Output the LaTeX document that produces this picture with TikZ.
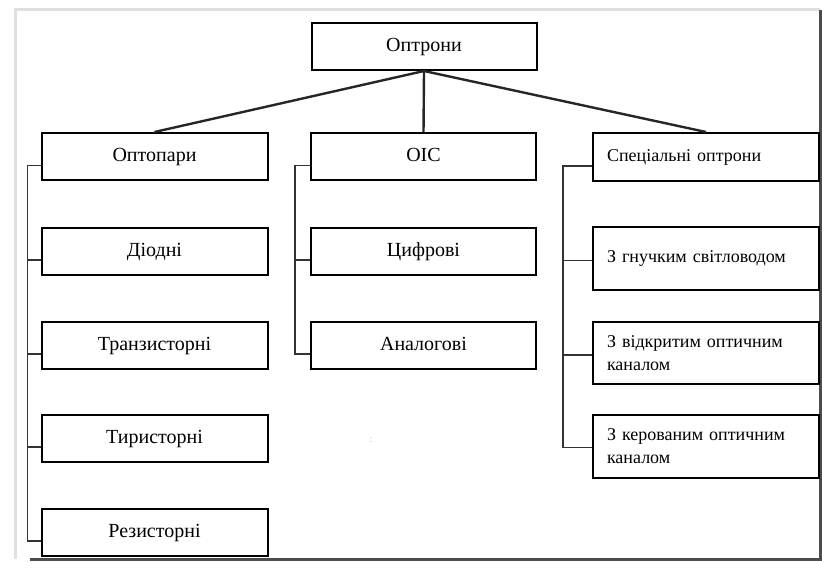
\documentclass[tikz,border=0pt]{standalone}
\usepackage{fontspec}
\setmainfont{Liberation Serif}
\tikzset{
  ramka/.style={draw,line width=1pt,minimum width=113pt,minimum height=23.5pt,inner sep=0pt},
  blok/.style={ramka,font=\fontsize{10}{12}\selectfont,text height=7pt,text depth=2pt},
  blokl/.style={ramka,font=\fontsize{9}{11.5}\selectfont,align=left,text width=99pt,inner xsep=7pt},
  gilka/.style={line width=0.8pt,black!80},
  zvjazok/.style={line width=1.2pt,black!85}
}
\begin{document}
\begin{tikzpicture}[x=0.5pt,y=-0.5pt]
		\useasboundingbox (0,0) rectangle (822,572);
		% ramka
		\draw[black!12,line width=1.5pt] (15,559) -- (15,10) -- (820,10);
		\draw[black!70,line width=1.5pt] (30,559) -- (820,559) -- (820,10);
		\node[blok,minimum width=112.5pt] (opt) at (424,46.5) {Оптрони};
		% liva grupa
		\node[blok] (opa) at (154.5,156.5) {Оптопари};
		\node[blok] (dio) at (154.5,251) {Діодні};
		\node[blok] (tra) at (154.5,345) {Транзисторні};
		\node[blok] (tyr) at (154.5,438) {Тиристорні};
		\node[blok] (rez) at (154.5,532) {Резисторні};
		% serednja grupa
		\node[blok,minimum width=112.5pt] (ois) at (423.5,156.5) {ОІС};
		\node[blok,minimum width=112.5pt] (cyf) at (423.5,251) {Цифрові};
		\node[blok,minimum width=112.5pt] (ana) at (423.5,345) {Аналогові};
		% prava grupa
		\node[blokl,minimum height=24pt] (spe) at (706,157) {Спеціальні оптрони};
		\node[blokl,minimum height=31.5pt] (gnu) at (706,258.5) {З гнучким світловодом};
		\node[blokl,minimum height=31pt] (vid) at (706,353) {З відкритим оптичним каналом};
		\node[blokl,minimum height=31.5pt] (ker) at (706,446.5) {З керованим оптичним каналом};
		\node[text=black!30,font=\tiny] (kr) at (371,440) {:};
		% zvjazky
		\draw[zvjazok] (opt.south) -- (opa.north);
		\draw[zvjazok] (opt.south) -- (ois.north);
		\draw[zvjazok] (opt.south) -- (spe.north);
		\draw[gilka] ([yshift=-4.5pt]opa.west) -- ++(-13,0) |- ([yshift=-4.5pt]rez.west);
		\foreach \n in {dio,tra,tyr}
			\draw[gilka] ([yshift=-4.5pt]\n.west) -- ++(-13,0);
		\draw[gilka] ([yshift=-4.5pt]ois.west) -- ++(-15,0) |- ([yshift=-4.5pt]ana.west);
		\draw[gilka] ([yshift=-4.5pt]cyf.west) -- ++(-15,0);
		\draw[gilka] ([yshift=-4.5pt]spe.west) -- ++(-29,0) |- ([yshift=-0.5pt]ker.west);
		\foreach \n in {gnu,vid}
			\draw[gilka] ([yshift=-1pt]\n.west) -- ++(-29,0);
\end{tikzpicture}
\end{document}
